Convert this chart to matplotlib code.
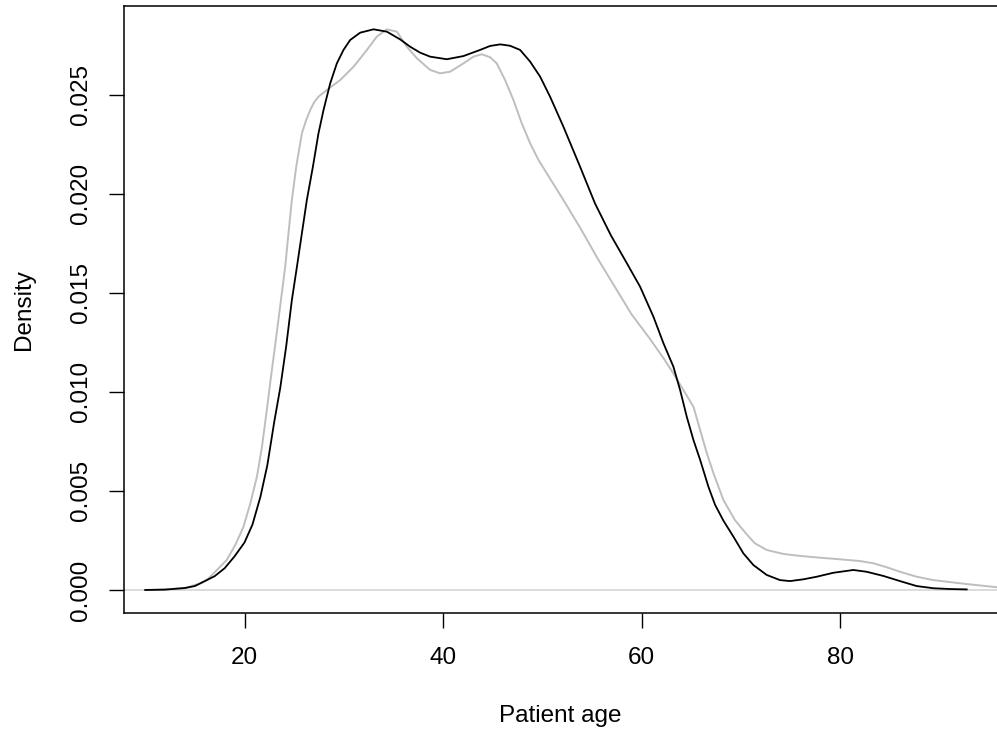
import matplotlib.pyplot as plt
import numpy as np

plt.rcParams['font.family'] = ['Liberation Sans', 'DejaVu Sans']

# density curves (age, density)
age_black = [10.0, 12.0, 14.0, 15.0, 16.0, 17.0, 18.0, 19.0, 20.0, 20.8, 21.6, 22.3, 23.0,
             23.6, 24.2, 24.77, 25.28, 25.78, 26.28, 26.89, 27.45, 27.96, 28.63, 29.3, 29.97,
             30.64, 31.65, 33.0, 34.34, 35.68, 36.69, 37.7, 38.7, 40.38, 42.05, 43.73, 44.74,
             45.75, 46.75, 47.76, 48.77, 49.78, 50.78, 52.12, 53.8, 55.3, 56.9, 58.5, 59.85,
             61.19, 62.2, 63.2, 63.88, 64.55, 65.22, 65.9, 66.73, 67.4, 68.24, 69.25, 70.25,
             71.26, 72.6, 73.94, 74.95, 76.3, 77.64, 79.32, 81.33, 82.67, 84.35, 86.03, 87.7,
             89.38, 91.0, 92.75]
dens_black = [0.0, 0.00002, 0.0001, 0.0002, 0.00045, 0.0007, 0.0011, 0.0017, 0.0024, 0.0033,
              0.0047, 0.0063, 0.0085, 0.0102, 0.0123, 0.01463, 0.01631, 0.018, 0.01968,
              0.02136, 0.02304, 0.02422, 0.02556, 0.02657, 0.02725, 0.02775, 0.02812, 0.02829,
              0.02817, 0.02778, 0.02741, 0.02711, 0.02691, 0.02678, 0.02694, 0.02725, 0.02745,
              0.02753, 0.02746, 0.02725, 0.02666, 0.0259, 0.02489, 0.02338, 0.02136, 0.01951,
              0.01790, 0.01650, 0.0153, 0.01379, 0.01245, 0.01127, 0.01009, 0.00874, 0.00757,
              0.00656, 0.00521, 0.0043, 0.0035, 0.00269, 0.00185, 0.00126, 0.00076, 0.0005,
              0.00045, 0.00054, 0.00067, 0.00087, 0.00101, 0.00092, 0.00071, 0.00045, 0.0002,
              0.00009, 0.00005, 0.00003]

age_gray = [10.0, 12.0, 14.0, 15.6, 16.2, 17.2, 18.2, 19.1, 19.9, 20.6, 21.25, 21.75, 22.2,
            22.6, 23.1, 23.67, 24.1, 24.43, 24.77, 25.21, 25.78, 26.2, 26.62, 27.0, 27.45,
            28.3, 29.64, 30.98, 32.33, 33.33, 34.34, 35.35, 36.35, 37.36, 38.7, 39.7, 40.71,
            42.05, 43.06, 43.9, 44.74, 45.41, 46.25, 47.09, 47.93, 48.77, 49.61, 50.45, 52.12,
            53.9, 55.6, 57.3, 59.0, 60.8, 62.2, 63.2, 64.21, 65.22, 65.9, 66.57, 67.24, 68.24,
            69.4, 70.5, 71.4, 72.6, 74.28, 75.96, 77.97, 79.98, 82.0, 83.34, 84.69, 86.03,
            87.7, 89.38, 92.75, 95.77, 97.0]
dens_gray = [0.0, 0.00003, 0.0001, 0.00034, 0.0005, 0.001, 0.00151, 0.0023, 0.0032, 0.0044,
             0.00572, 0.0072, 0.0089, 0.0105, 0.0124, 0.01463, 0.01631, 0.018, 0.01968,
             0.02136, 0.02304, 0.0237, 0.02422, 0.0246, 0.02489, 0.02523, 0.02573, 0.0264,
             0.02725, 0.02792, 0.02829, 0.02817, 0.02741, 0.02683, 0.02624, 0.02607, 0.02615,
             0.02657, 0.02691, 0.02703, 0.02688, 0.02657, 0.02573, 0.02472, 0.02355, 0.02254,
             0.0217, 0.02102, 0.01968, 0.0182, 0.0167, 0.0153, 0.0139, 0.0127, 0.0117, 0.01093,
             0.01009, 0.00925, 0.00807, 0.0069, 0.00589, 0.00454, 0.00353, 0.00286, 0.00236,
             0.00202, 0.00182, 0.00172, 0.00163, 0.00155, 0.00146, 0.00135, 0.00115, 0.00092,
             0.00067, 0.0005, 0.0003, 0.00014, 0.0001]

x_ticks = [20, 40, 60, 80]
y_ticks = [0.000, 0.005, 0.010, 0.015, 0.020, 0.025]

fig = plt.figure(figsize=(9.97, 7.32), dpi=100)
ax = fig.add_axes([123.5 / 997, 119.3 / 732, (997 - 123.5) / 997, (612.7 - 6) / 732])

ax.axhline(0, color='#d6d6d6', lw=1.2, zorder=1)
ax.plot(age_gray, dens_gray, color='#bebebe', lw=1.4, zorder=2)
ax.plot(age_black, dens_black, color='black', lw=1.3, zorder=3)

ax.set_xlim(7.81, 95.8)
ax.set_ylim(-0.001145, 0.029466)
ax.set_xticks(x_ticks)
ax.set_yticks(y_ticks)
ax.set_yticklabels(['%.3f' % v for v in y_ticks], rotation=90, va='center')
ax.tick_params(direction='out', length=10.8, width=1.0, labelsize=17.5, colors='black')
ax.tick_params(axis='x', pad=14)
ax.tick_params(axis='y', pad=12)
for side in ['left', 'top', 'bottom']:
    ax.spines[side].set_linewidth(1.1)
ax.spines['right'].set_visible(False)

ax.set_xlabel('Patient age', fontsize=17.5, labelpad=26)
ax.set_ylabel('Density', fontsize=17.5, labelpad=25)

fig.savefig('out.png', dpi=100)
